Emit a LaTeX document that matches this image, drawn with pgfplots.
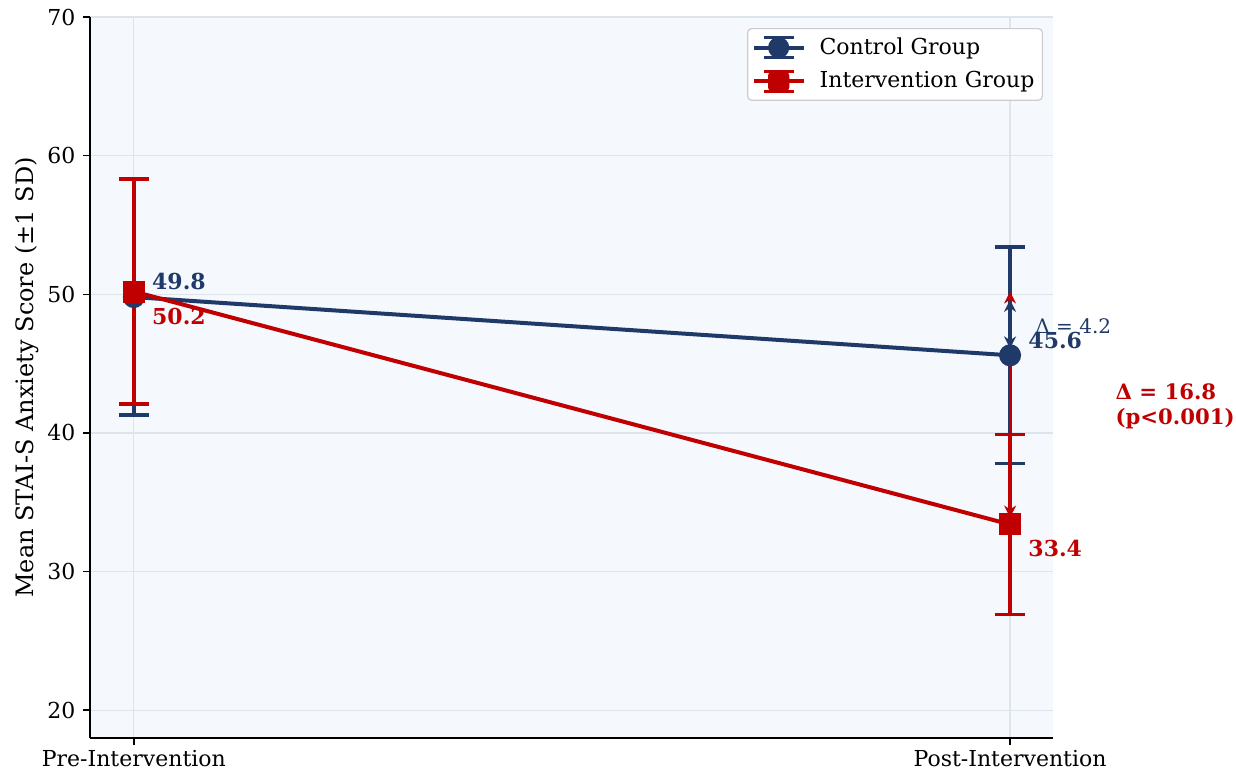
\documentclass[border=0pt]{standalone}
\usepackage{fontspec}
\setmainfont{DejaVu Serif}
\usepackage{pgfplots}
\pgfplotsset{compat=1.18}
\usetikzlibrary{arrows.meta}

\definecolor{ctrl}{HTML}{1F3A68}
\definecolor{intv}{HTML}{C00000}
\definecolor{panel}{HTML}{F5F8FC}
\definecolor{gridc}{HTML}{DCE4EC}

% legend samples: line, error bar and marker
\pgfplotsset{
  ctrl legend/.style={legend image code/.code={
    \path[draw=none, fill=none] (-1pt,0pt) rectangle (31pt,0.1pt);
    \draw[ctrl, line width=2pt] (0pt,0pt) -- (25pt,0pt);
    \draw[ctrl, line width=1.75pt] (12.5pt,-5pt) -- (12.5pt,5pt);
    \draw[ctrl, line width=1.75pt] (5pt,5pt) -- (20pt,5pt);
    \draw[ctrl, line width=1.75pt] (5pt,-5pt) -- (20pt,-5pt);
    \fill[ctrl] (12.5pt,0pt) circle (5pt);
  }},
  intv legend/.style={legend image code/.code={
    \path[draw=none, fill=none] (-1pt,0pt) rectangle (31pt,0.1pt);
    \draw[intv, line width=2pt] (0pt,0pt) -- (25pt,0pt);
    \draw[intv, line width=1.75pt] (12.5pt,-5pt) -- (12.5pt,5pt);
    \draw[intv, line width=1.75pt] (5pt,5pt) -- (20pt,5pt);
    \draw[intv, line width=1.75pt] (5pt,-5pt) -- (20pt,-5pt);
    \fill[intv] (7.5pt,-5pt) rectangle (17.5pt,5pt);
  }},
}

\begin{document}
\fontsize{11}{13}\selectfont
\begin{tikzpicture}
% fixed page frame around the axis box
\path[use as bounding box] (-45pt,-16.5pt) rectangle (573pt,369pt);
\begin{axis}[
  at={(0,0)}, anchor=south west,
  scale only axis, width=481.5pt, height=360.5pt,
  xmin=-0.05, xmax=1.049, ymin=18, ymax=70,
  axis x line*=bottom, axis y line*=left,
  axis line style={line width=0.8pt, black},
  axis background/.style={fill=panel},
  xtick={0,1}, xticklabels={Pre-Intervention, Post-Intervention},
  ytick={20,30,40,50,60,70},
  tick align=outside, major tick length=3.5pt,
  tick style={line width=0.8pt, black},
  grid=major, grid style={gridc, line width=0.6pt},
  /pgf/number format/assume math mode=true,
  ticklabel style={font=\fontsize{11}{13}\selectfont},
  xticklabel style={yshift=1pt},
  ylabel={Mean STAI-S Anxiety Score (±1 SD)},
  ylabel style={font=\fontsize{12}{14}\selectfont, yshift=-3.5pt},
  clip=false,
  legend cell align=left,
  legend style={at={(0.9896,0.9847)}, anchor=north east,
    draw=black!20, line width=0.6pt, rounded corners=2pt, fill=white,
    font=\fontsize{11}{13}\selectfont, inner xsep=2pt, inner ysep=2.5pt,
    row sep=3pt},
]
\addlegendimage{ctrl legend}
\addlegendentry{Control Group}
\addlegendimage{intv legend}
\addlegendentry{Intervention Group}

% control group: means with +-1 SD
\addplot[ctrl, line width=2pt, mark=*, mark size=4.5pt, forget plot,
  error bars/.cd, y dir=both, y explicit,
  error bar style={line width=1.75pt},
  error mark options={rotate=90, mark size=7.5pt, line width=1.75pt}]
  coordinates {(0,49.8) +- (0,8.5) (1,45.6) +- (0,7.8)};

% intervention group: means with +-1 SD
\addplot[intv, line width=2pt, mark=square*, mark size=4.5pt, forget plot,
  error bars/.cd, y dir=both, y explicit,
  error bar style={line width=1.75pt},
  error mark options={rotate=90, mark size=7.5pt, line width=1.75pt}]
  coordinates {(0,50.2) +- (0,8.1) (1,33.4) +- (0,6.5)};

% change arrows at post-intervention
\draw[intv, line width=1.5pt, {Stealth[length=6pt,width=6pt]}-{Stealth[length=6pt,width=6pt]}]
  (axis cs:1,50.2) -- (axis cs:1,33.9);
\draw[ctrl, line width=1.8pt, {Stealth[length=6pt,width=6pt]}-{Stealth[length=6pt,width=6pt]}]
  (axis cs:1,49.6) -- (axis cs:1,46.1);

% value labels
\node[ctrl, anchor=west, inner sep=0pt, font=\fontsize{11}{13}\selectfont\bfseries] at (axis cs:0.0205,50.9) {49.8};
\node[intv, anchor=west, inner sep=0pt, font=\fontsize{11}{13}\selectfont\bfseries] at (axis cs:0.0205,48.4) {50.2};
\node[ctrl, anchor=west, inner sep=0pt, font=\fontsize{11}{13}\selectfont\bfseries] at (axis cs:1.0205,46.7) {45.6};
\node[intv, anchor=west, inner sep=0pt, font=\fontsize{11}{13}\selectfont\bfseries] at (axis cs:1.0205,31.7) {33.4};

% differences
\node[ctrl, anchor=west, inner sep=0pt, font=\fontsize{10}{12}\selectfont] at (axis cs:1.0285,47.7) {Δ = 4.2};
\node[intv, anchor=west, inner sep=0pt, align=left, font=\fontsize{10.6}{12.5}\selectfont\bfseries] at (axis cs:1.12,41.9) {Δ = 16.8\\(p<0.001)};
\end{axis}
\end{tikzpicture}
\end{document}
